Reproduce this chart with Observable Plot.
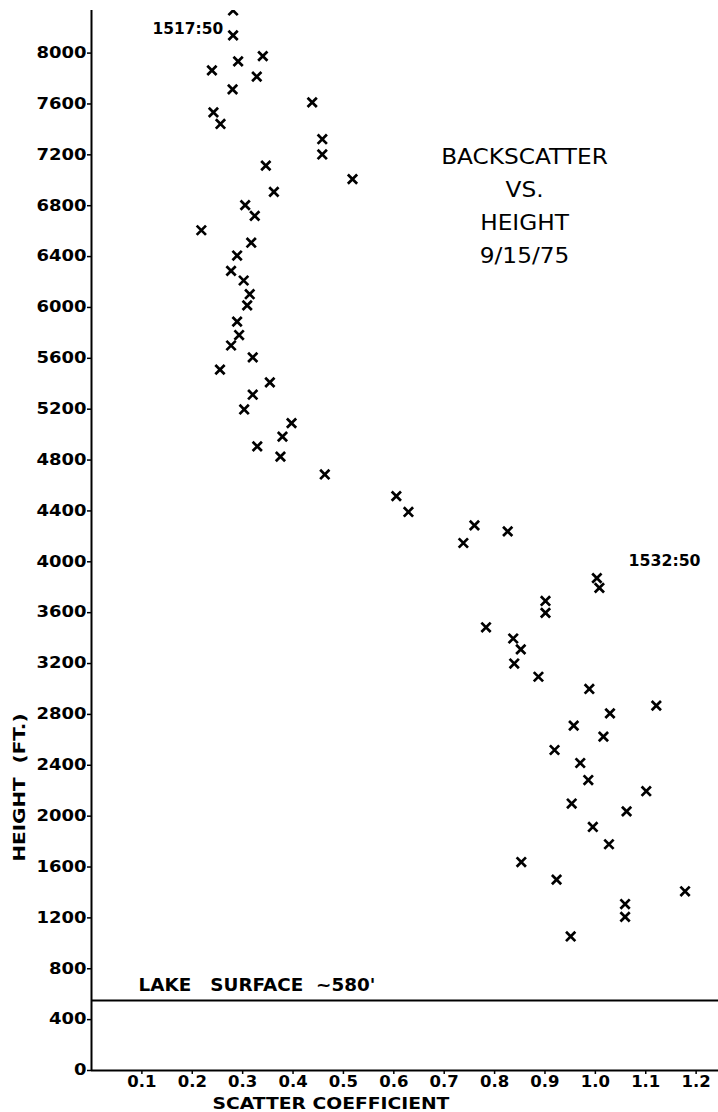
<!DOCTYPE html>
<html><head><meta charset="utf-8">
<script src="https://cdn.jsdelivr.net/npm/d3@7"></script>
<script src="https://cdn.jsdelivr.net/npm/@observablehq/plot@0.6"></script>
<style>
html,body{margin:0;padding:0;background:#fff;}
#chart svg{display:block;}
</style></head><body><div id="chart"></div><script>
// Scatter coefficient (x) and height in feet (y) for each observation
const scatterCoefficient = [
  0.281, 0.281, 0.340, 0.291, 0.239, 0.328, 0.280, 0.438, 0.242, 0.256,
  0.458, 0.458, 0.346, 0.518, 0.362, 0.305, 0.324, 0.218, 0.317, 0.289,
  0.277, 0.302, 0.314, 0.309, 0.289, 0.293, 0.277, 0.320, 0.255, 0.354,
  0.320, 0.303, 0.397, 0.379, 0.329, 0.375, 0.463, 0.605, 0.629, 0.760,
  0.826, 0.738, 1.003, 1.008, 0.901, 0.901, 0.783, 0.837, 0.852, 0.839,
  0.887, 0.988, 1.121, 1.029, 0.957, 1.016, 0.919, 0.970, 0.986, 1.101,
  0.953, 1.062, 0.995, 1.027, 0.853, 0.923, 1.178, 1.059, 1.059, 0.951
];
const heightFt = [
  8335, 8139, 7976, 7935, 7864, 7815, 7715, 7613, 7534, 7443,
  7323, 7203, 7115, 7009, 6909, 6805, 6720, 6607, 6509, 6408,
  6288, 6212, 6104, 6016, 5889, 5783, 5701, 5607, 5511, 5411,
  5314, 5198, 5090, 4984, 4908, 4827, 4687, 4516, 4392, 4286,
  4239, 4148, 3872, 3795, 3692, 3598, 3485, 3397, 3311, 3200,
  3096, 3000, 2869, 2808, 2712, 2625, 2520, 2418, 2284, 2196,
  2099, 2038, 1915, 1779, 1639, 1501, 1409, 1309, 1208, 1054
];
const xTicks = [0.1, 0.2, 0.3, 0.4, 0.5, 0.6, 0.7, 0.8, 0.9, 1.0, 1.1, 1.2];
const yTicks = [0, 400, 800, 1200, 1600, 2000, 2400, 2800, 3200, 3600, 4000,
  4400, 4800, 5200, 5600, 6000, 6400, 6800, 7200, 7600, 8000];
const lakeSurface = [550];
const titleLines = ["BACKSCATTER", "VS.", "HEIGHT", "9/15/75"];
const startLabel = ["1517:50"];
const endLabel = ["1532:50"];
const lakeLabel = ["LAKE   SURFACE  ~580'"];
const xLabel = ["SCATTER COEFFICIENT"];
const yLabel = ["HEIGHT  (FT.)"];

const data = scatterCoefficient.map((x, i) => ({x, y: heightFt[i]}));
const id = d => d;

const chart = Plot.plot({
  width: 718,
  height: 1112,
  marginLeft: 91,
  marginRight: 0,
  marginTop: 10,
  marginBottom: 42,
  x: {domain: [0, 1.2444]},
  y: {domain: [0, 8335]},
  style: {fontFamily: "DejaVu Sans", color: "#000", background: "#fff"},
  marks: [
    Plot.ruleY([0], {stroke: "#000", strokeWidth: 2}),
    Plot.ruleX([0], {stroke: "#000", strokeWidth: 2}),
    Plot.ruleY(lakeSurface, {stroke: "#000", strokeWidth: 2}),
    Plot.axisY(yTicks, {tickSize: 4, tickPadding: 1, tickFormat: d => String(d), fontSize: 15, fontWeight: "bold", label: null, strokeWidth: 1.5, fill: "#000"}),
    Plot.axisX(xTicks, {tickSize: 4, tickPadding: 2, tickFormat: d => d.toFixed(1), fontSize: 15, fontWeight: "bold", label: null, strokeWidth: 1.5, fill: "#000"}),
    Plot.dot(data, {x: "x", y: "y", symbol: "times", r: 4.3, stroke: "#000", strokeWidth: 2.7, clip: true}),
    Plot.text([titleLines.join("\n")], {text: id, x: 0.8594, y: 6820, fontSize: 21, lineHeight: 1.57, lineAnchor: "middle", fill: "#000"}),
    Plot.text(startLabel, {text: id, x: 0.2615, y: 8187, textAnchor: "end", fontSize: 15, fontWeight: "bold", fill: "#000"}),
    Plot.text(endLabel, {text: id, x: 1.066, y: 4003, textAnchor: "start", fontSize: 15, fontWeight: "bold", fill: "#000"}),
    Plot.text(lakeLabel, {text: id, x: 0.0933, y: lakeSurface[0], dy: -15, textAnchor: "start", fontSize: 17, fontWeight: "bold", fill: "#000"}),
    Plot.text(xLabel, {text: id, x: 0.4753, frameAnchor: "bottom", lineAnchor: "middle", textAnchor: "middle", dy: 33, fontSize: 16, fontWeight: "bold", fill: "#000"}),
    Plot.text(yLabel, {text: id, y: 2225, frameAnchor: "left", lineAnchor: "middle", textAnchor: "middle", dx: -71, rotate: -90, fontSize: 15, fontWeight: "bold", fill: "#000"})
  ]
});
document.getElementById("chart").appendChild(chart);

// horizontally stretch texts about their anchor to match the wide stencil lettering
function stretchFor(s) {
  if (/^\d+$/.test(s)) return 1.2;                 // y tick labels
  if (/^\d\.\d$/.test(s)) return 1.1;              // x tick labels
  if (s.startsWith("BACKSCATTER")) return 1.107;   // title block
  if (s === startLabel[0]) return 1.03;
  if (s === endLabel[0]) return 1.05;
  if (s === lakeLabel[0]) return 1.08;
  if (s === xLabel[0]) return 1.17;
  if (s === yLabel[0]) return 1.33;
  return 1;
}
chart.querySelectorAll("text").forEach(el => {
  const sx = stretchFor(el.textContent);
  if (sx === 1) return;
  const t = el.getAttribute("transform") || "";
  const x = +el.getAttribute("x") || 0, y = +el.getAttribute("y") || 0;
  el.setAttribute("transform", `${t} translate(${x},${y}) scale(${sx},1) translate(${-x},${-y})`);
  el.style.whiteSpace = "pre";
});
</script></body></html>
